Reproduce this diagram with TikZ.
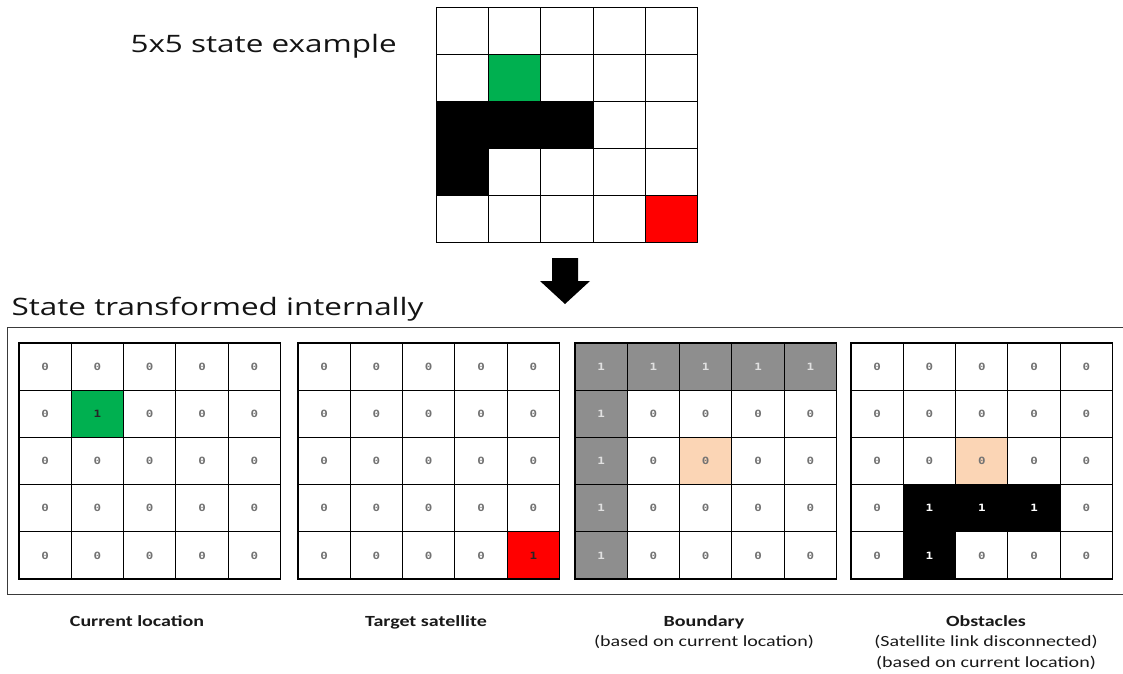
\documentclass[tikz,border=0pt]{standalone}
\usepackage{fontspec}
\setmainfont[FakeStretch=1.29]{Carlito}
\newfontfamily\titlefont[FakeStretch=1.31]{Open Sans}
\newfontfamily\numfont[FakeStretch=1.25]{DejaVu Sans Mono}
\definecolor{cgreen}{HTML}{00B050}
\definecolor{cred}{HTML}{FF0000}
\definecolor{cgray}{HTML}{8E8E8E}
\definecolor{cpeach}{HTML}{FBD5B5}
\definecolor{framecol}{HTML}{3A3A3A}
\newcommand\stategrid[6]{% name, x0, y0, cell w, cell h, list
  \foreach \code [count=\i from 0] in {#6} {
    \pgfmathtruncatemacro\rr{\i/5}
    \pgfmathtruncatemacro\cc{\i-5*\rr}
    \node[cell,minimum width=#4pt,minimum height=#5pt,c\code,name=#1-\rr-\cc,
      at={({#2+#4*(\cc+0.5)},{#3+#5*(\rr+0.5)})}];
  }
}
\begin{document}
\begin{tikzpicture}[x=1pt,y=-1pt,
  cell/.style={draw=black,line width=1.1pt,inner sep=0pt,outer sep=0pt,
    font=\numfont\bfseries\fontsize{10}{10}\selectfont},
  ce/.style={fill=white,node contents={}},
  cg/.style={fill=cgreen,node contents={}},
  ck/.style={fill=black,node contents={}},
  cr/.style={fill=cred,node contents={}},
  cw/.style={fill=white,text=black!55,node contents=0},
  cP/.style={fill=cpeach,text=black!55,node contents=0},
  cG/.style={fill=cgreen,text=black!85,node contents=1},
  cR/.style={fill=cred,text=black!85,node contents=1},
  cK/.style={fill=cgray,text=white!88!black,node contents=1},
  cB/.style={fill=black,text=white,node contents=1},
  title/.style={anchor=base west,text=black!92,font=\titlefont\fontsize{24}{24}\selectfont},
  lab/.style={anchor=base,text=black!90,font=\bfseries\fontsize{15.5}{15.5}\selectfont},
  sublab/.style={anchor=base,text=black!90,font=\fontsize{15.5}{15.5}\selectfont},
]
\useasboundingbox (0,0) rectangle (1123,673);

\node[title] (t1) at (127,52) {5x5 state example};
\node[title] (t2) at (8,315) {State transformed internally};

\stategrid{top}{436.5}{7.5}{52.2}{47}{e,e,e,e,e, e,g,e,e,e, k,k,k,e,e, k,e,e,e,e, e,e,e,e,r}

\fill (552,258) -- (578,258) -- (578,281) -- (590,281) -- (565,304) -- (540,281) -- (552,281) -- cycle;

\draw[framecol,line width=1.3pt] (1126,327.5) -| (7.5,594.5) -- (1126,594.5);

\stategrid{cur}{19}{343}{52.3}{47.2}{w,w,w,w,w, w,G,w,w,w, w,w,w,w,w, w,w,w,w,w, w,w,w,w,w}
\stategrid{tgt}{298}{343}{52.3}{47.2}{w,w,w,w,w, w,w,w,w,w, w,w,w,w,w, w,w,w,w,w, w,w,w,w,R}
\stategrid{bnd}{575}{343}{52.3}{47.2}{K,K,K,K,K, K,w,w,w,w, K,w,P,w,w, K,w,w,w,w, K,w,w,w,w}
\stategrid{obs}{851}{343}{52.3}{47.2}{w,w,w,w,w, w,w,w,w,w, w,w,P,w,w, w,B,B,B,w, w,B,w,w,w}

\node[lab] (l1) at (137,626) {Current location};
\node[lab] (l2) at (426,626) {Target satellite};
\node[lab] (l3) at (704,626) {Boundary};
\node[sublab] (l3b) at (704,646) {(based on current location)};
\node[lab] (l4) at (986,626) {Obstacles};
\node[sublab] (l4b) at (986,646) {(Satellite link disconnected)};
\node[sublab] (l4c) at (986,667) {(based on current location)};
\end{tikzpicture}
\end{document}
